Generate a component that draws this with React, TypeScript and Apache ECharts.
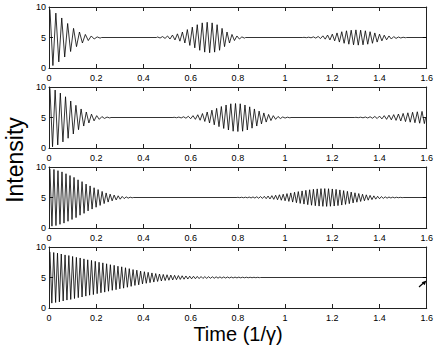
import { useEffect, useRef } from 'react';
import * as echarts from 'echarts';

// Tick values
const xMin = 0;
const xMax = 1.6;
const xStep = 0.2;
const yMin = 0;
const yMax = 10;
const yStep = 5;
const baseline = 5;

// Oscillation amplitudes (deviation from 5) per cycle
// Panel 1
const p1CollapseAmps = [4.6, 4.0, 3.2, 2.3, 1.5, 0.9, 0.5, 0.25, 0.1];
const p1Revival1Amps = [0.08, 0.15, 0.25, 0.4, 0.6, 0.9, 1.3, 1.7, 2.1, 2.4, 2.5, 2.4, 2.1, 1.5, 0.9, 0.5, 0.25, 0.1];
const p1Revival2Amps = [0.03, 0.05, 0.1, 0.17, 0.27, 0.4, 0.55, 0.75, 0.95, 1.1, 1.2, 1.25, 1.2, 1.1, 0.95, 0.75, 0.55, 0.38, 0.25, 0.15, 0.08, 0.04];
// Panel 2
const p2CollapseAmps = [4.8, 4.5, 4.0, 3.4, 2.7, 2.0, 1.4, 0.9, 0.55, 0.3, 0.15, 0.07];
const p2Revival1Amps = [0.04, 0.07, 0.12, 0.2, 0.3, 0.45, 0.65, 0.9, 1.2, 1.5, 1.8, 2.05, 2.25, 2.3, 2.25, 2.05, 1.75, 1.4, 1.05, 0.75, 0.5, 0.3, 0.17, 0.09, 0.05];
const p2Revival2Amps = [0.03, 0.05, 0.08, 0.12, 0.17, 0.23, 0.3, 0.38, 0.47, 0.57, 0.67, 0.77, 0.86, 0.94, 1.0];
// Panel 3
const p3CollapseAmps = [4.7, 4.6, 4.4, 4.2, 3.9, 3.6, 3.3, 2.9, 2.6, 2.2, 1.9, 1.6, 1.3, 1.0, 0.75, 0.55, 0.4, 0.28, 0.18, 0.1, 0.05];
const p3RevivalAmps = [0.03, 0.04, 0.05, 0.07, 0.09, 0.12, 0.15, 0.19, 0.24, 0.3, 0.37, 0.45, 0.54, 0.64, 0.75, 0.86, 0.97, 1.08, 1.18, 1.27, 1.35, 1.41, 1.45, 1.46, 1.44, 1.4, 1.33, 1.24, 1.13, 1.01, 0.89, 0.77, 0.65, 0.54, 0.44, 0.35, 0.27, 0.2, 0.15, 0.11, 0.08, 0.06, 0.04, 0.03];
// Panel 4
const p4CollapseAmps = [4.2, 4.1, 4.0, 3.85, 3.7, 3.6, 3.45, 3.3, 3.2, 3.05, 2.9, 2.8, 2.65, 2.5, 2.4, 2.25, 2.1, 2.0, 1.85, 1.75, 1.6, 1.45, 1.3, 1.2, 1.05, 0.95, 0.85, 0.75, 0.65, 0.57, 0.5, 0.45, 0.4, 0.36, 0.32, 0.28, 0.25, 0.22, 0.2, 0.18, 0.16, 0.14, 0.13, 0.12, 0.11, 0.1, 0.09, 0.08, 0.07, 0.065, 0.06, 0.05, 0.045, 0.04, 0.035, 0.03];

// Bursts: start time, oscillation period, amplitudes
type Burst = { t0: number; period: number; amps: number[] };
const panel1: Burst[] = [
  { t0: 0.004, period: 0.025, amps: p1CollapseAmps },
  { t0: 0.46, period: 0.021, amps: p1Revival1Amps },
  { t0: 1.08, period: 0.02, amps: p1Revival2Amps },
];
const panel2: Burst[] = [
  { t0: 0.004, period: 0.022, amps: p2CollapseAmps },
  { t0: 0.53, period: 0.02, amps: p2Revival1Amps },
  { t0: 1.3, period: 0.02, amps: p2Revival2Amps },
];
const panel3: Burst[] = [
  { t0: 0.004, period: 0.017, amps: p3CollapseAmps },
  { t0: 0.8, period: 0.016, amps: p3RevivalAmps },
];
const panel4: Burst[] = [{ t0: 0.004, period: 0.016, amps: p4CollapseAmps }];
const panels = [panel1, panel2, panel3, panel4];

function buildSeries(bursts: Burst[]): [number, number][] {
  const pts: [number, number][] = [];
  bursts.forEach((b) => {
    if (b.t0 > 0.01) pts.push([b.t0 - b.period / 4, baseline]);
    b.amps.forEach((a, i) => {
      pts.push([b.t0 + i * b.period, baseline + a]);
      pts.push([b.t0 + i * b.period + b.period / 2, baseline - a]);
    });
    const last = b.t0 + (b.amps.length - 0.5) * b.period + b.period / 4;
    if (last < xMax) pts.push([last, baseline]);
  });
  if (pts[pts.length - 1][0] < xMax - 0.01) pts.push([xMax, baseline]);
  return pts;
}

// Layout
const gridLeft = 49;
const gridWidth = 379;
const gridTops = [7, 87, 167, 247];
const gridHeight = 61;

export default function App() {
  const ref = useRef<HTMLDivElement>(null);
  useEffect(() => {
    if (!ref.current) return;
    const chart = echarts.init(ref.current, null, { renderer: 'svg' });
    const font = 'Liberation Sans, Arial, Helvetica, sans-serif';
    const axisColor = '#222';
    const grids = gridTops.map((top) => ({
      left: gridLeft,
      top,
      width: gridWidth,
      height: gridHeight,
      show: false,
    }));
    const xAxes: any[] = [];
    const yAxes: any[] = [];
    gridTops.forEach((_, i) => {
      const common = {
        type: 'value',
        gridIndex: i,
        min: xMin,
        max: xMax,
        interval: xStep,
        splitLine: { show: false },
        axisLine: { show: true, onZero: false, lineStyle: { color: axisColor, width: 1 } },
        axisTick: { show: true, inside: true, length: 4, lineStyle: { color: axisColor } },
      };
      xAxes.push({
        ...common,
        position: 'bottom',
        axisLabel: { show: true, fontSize: 9, color: '#000', fontFamily: font, margin: 5 },
      });
      xAxes.push({ ...common, position: 'top', axisLabel: { show: false } });
      const ycommon = {
        type: 'value',
        gridIndex: i,
        min: yMin,
        max: yMax,
        interval: yStep,
        splitLine: { show: false },
        axisLine: { show: true, onZero: false, lineStyle: { color: axisColor, width: 1 } },
        axisTick: { show: true, inside: true, length: 4, lineStyle: { color: axisColor } },
      };
      yAxes.push({
        ...ycommon,
        position: 'left',
        axisLabel: { show: true, fontSize: 9, color: '#000', fontFamily: font, margin: 3 },
      });
      yAxes.push({ ...ycommon, position: 'right', axisLabel: { show: false } });
    });
    const series = panels.map((p, i) => ({
      type: 'line',
      xAxisIndex: i * 2,
      yAxisIndex: i * 2,
      data: buildSeries(p),
      showSymbol: false,
      symbol: 'none',
      lineStyle: { color: '#000', width: 0.8 },
      clip: true,
    }));
    chart.setOption({
      animation: false,
      backgroundColor: '#fff',
      grid: grids,
      xAxis: xAxes,
      yAxis: yAxes,
      series,
      graphic: [
        {
          type: 'text',
          x: 15,
          y: 160,
          rotation: Math.PI / 2,
          style: {
            text: 'Intensity',
            fontSize: 23,
            fontFamily: font,
            fill: '#000',
            textAlign: 'center',
            textVerticalAlign: 'middle',
          },
        },
        {
          type: 'text',
          x: 238,
          y: 334,
          style: {
            text: 'Time (1/γ)',
            fontSize: 20,
            fontFamily: font,
            fill: '#000',
            textAlign: 'center',
            textVerticalAlign: 'middle',
          },
        },
        {
          type: 'line',
          shape: { x1: 419, y1: 287, x2: 424, y2: 282.5 },
          style: { stroke: '#000', lineWidth: 1.2 },
        },
        {
          type: 'polygon',
          shape: { points: [[426.5, 280.5], [421.7, 282.2], [424.6, 285.2]] },
          style: { fill: '#000' },
        },
      ],
    });
    return () => chart.dispose();
  }, []);
  return (
    <div
      ref={ref}
      style={{ position: 'absolute', left: 0, top: 0, width: 436, height: 345 }}
    />
  );
}
